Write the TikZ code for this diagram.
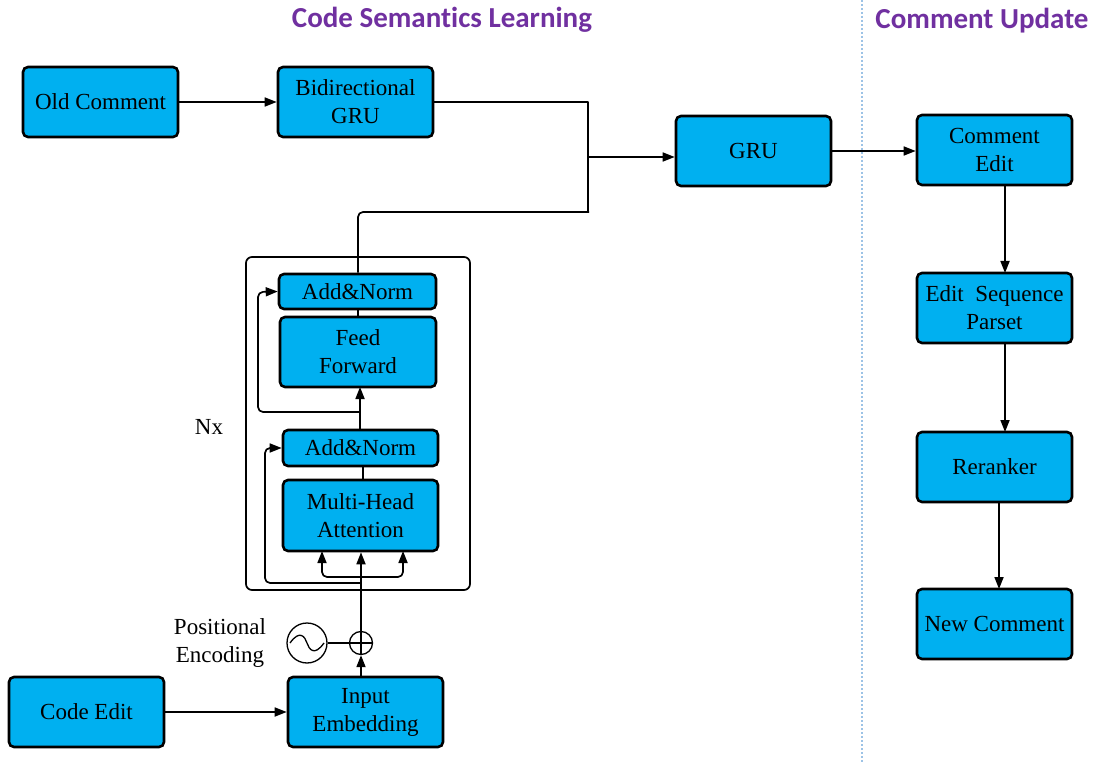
\documentclass[tikz,border=0pt]{standalone}
\usepackage{fontspec}
\setmainfont{Liberation Serif}
\newfontfamily\titlefont[Ligatures={NoCommon}]{Carlito}
\usetikzlibrary{arrows.meta}
\definecolor{boxblue}{HTML}{00B0F0}
\definecolor{titlepurple}{HTML}{7030A0}
\definecolor{sepblue}{HTML}{9DC3E6}
\begin{document}
\begin{tikzpicture}[x=1pt,y=-1pt,
  blk/.style={draw=black, line width=2.6pt, fill=boxblue, rounded corners=5pt,
    minimum width=155pt, minimum height=70pt, inner sep=0pt, align=center,
    font=\fontsize{23}{28}\selectfont},
  thin/.style={blk, minimum height=35pt},
  conn/.style={line width=1.7pt, line join=round},
  arr/.style={conn, -{Triangle[length=12pt,width=9pt]}},
  ttl/.style={font=\titlefont\bfseries\fontsize{29}{32}\selectfont, text=titlepurple},
  lbl/.style={font=\fontsize{23}{28}\selectfont, align=center, inner sep=0pt}
]
\useasboundingbox (0,0) rectangle (1093,762);

% titles and separator
\node[ttl] (t1) at (442,20) {Code Semantics Learning};
\node[ttl] (t2) at (982,21) {Comment Update};
\draw[sepblue, line width=1.3pt, dash pattern=on 2pt off 2pt] (862,0) -- (862,762);

% outer Nx box
\draw[line width=1.7pt, rounded corners=6pt] (246,257) rectangle (470,590);
\node[lbl] (nx) at (209,427) {Nx};

% nodes
\node[blk] (oldc) at (100.5,102) {Old Comment};
\node[blk] (bigru) at (355.5,102) {Bidirectional\\GRU};
\node[blk] (gru) at (753.5,151) {GRU};
\node[blk] (cedit) at (994.5,150) {Comment\\Edit};
\node[blk] (eseq) at (994.5,308) {Edit~~Sequence\\Parset};
\node[blk] (rerank) at (994.5,467) {Reranker};
\node[blk] (newc) at (994.5,624) {New Comment};
\node[blk] (codee) at (86.5,712) {Code Edit};
\node[blk] (inemb) at (365.5,712) {Input\\Embedding};
\node[thin, minimum width=157pt] (an2) at (357.5,291.5) {Add\&Norm};
\node[blk, minimum width=156pt] (ff) at (358,352) {Feed\\Forward};
\node[thin, minimum height=36pt] (an1) at (360.5,448) {Add\&Norm};
\node[blk, minimum height=71pt] (mha) at (360.5,515.5) {Multi-Head\\Attention};

% positional encoding
\node[draw, circle, line width=1.3pt, minimum size=40pt, inner sep=0pt] (pe) at (307,643) {};
\draw[line width=1.3pt] ([xshift=-17pt]pe.center) .. controls ([xshift=-7pt,yshift=14pt]pe.center) and ([xshift=-2pt,yshift=6pt]pe.center) .. (pe.center)
  .. controls ([xshift=2pt,yshift=-6pt]pe.center) and ([xshift=7pt,yshift=-14pt]pe.center) .. ([xshift=17pt]pe.center);
\node[draw, circle, line width=1.3pt, minimum size=23pt, inner sep=0pt] (plus) at (361,643) {};
\draw[line width=1.3pt] (plus.north) -- (plus.south) (plus.west) -- (plus.east);
\node[lbl] (pel) at (220,643) {Positional\\Encoding};

% connectors top
\draw[arr] (oldc.east) -- (bigru.west);
\coordinate (j) at (588,157);
\draw[conn] (bigru.east) -- (588,102) -- (588,212);
\draw[conn, rounded corners=5pt] (an2.north -| 358,0) -- (358,212) -- (589,212);
\draw[arr] (j) -- (j -| gru.west);
\draw[arr] (gru.east) -- (gru.east -| cedit.west);
\draw[arr] (1005,185) -- (1005,273);
\draw[arr] (1005,343) -- (1005,432);
\draw[arr] (999,502) -- (999,589);

% bottom
\draw[arr] (codee.east) -- (inemb.west);
\draw[arr] (inemb.north -| plus) -- (plus.south);
\draw[conn] (pe.east) -- (plus.west);
\draw[arr] (plus.north) -- (plus |- mha.south);
\coordinate (bl) at (361,583);
\draw[arr, rounded corners=5pt] (bl) -- (265,583) -- (265,448) -- (an1.west);
\draw[conn, rounded corners=5pt] (361,577) -- (322,577) -- (322,566);
\draw[conn, rounded corners=5pt] (361,577) -- (403,577) -- (403,566);
\draw[arr] (322,567) -- (322,551);
\draw[arr] (403,567) -- (403,551);

% inside block
\draw[conn] (363,466) -- (363,480);
\draw[arr] (360,430) -- (360,387);
\draw[arr, rounded corners=5pt] (360,412) -- (258,412) -- (258,292) -- (an2.west);
\draw[conn] (358,317) -- (358,309);
\end{tikzpicture}
\end{document}
